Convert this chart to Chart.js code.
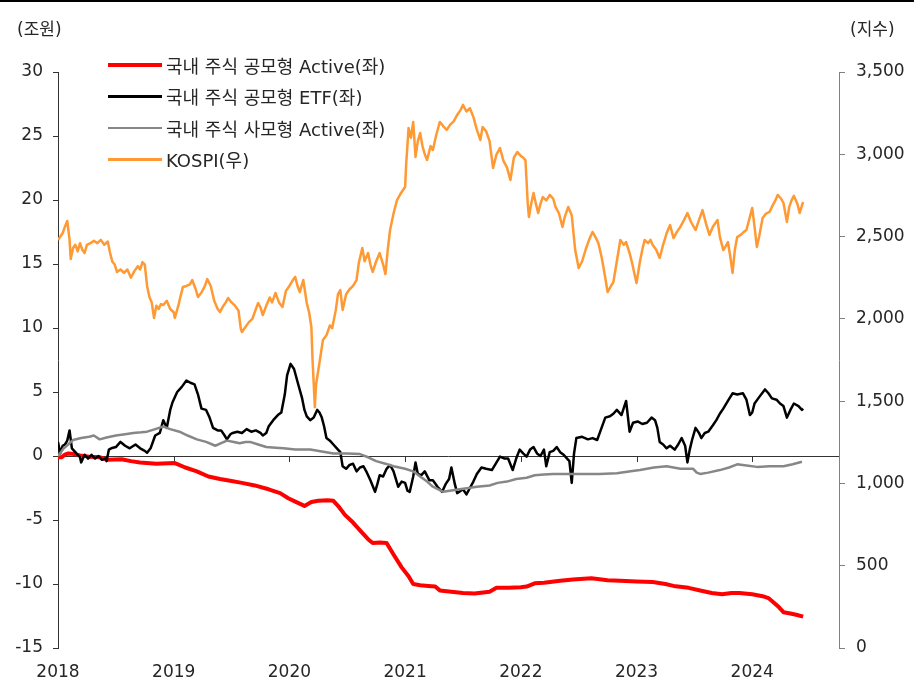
<!DOCTYPE html>
<html lang="ko">
<head>
<meta charset="utf-8">
<title>국내 주식형 펀드 자금 흐름과 KOSPI</title>
<script src="https://cdn.jsdelivr.net/npm/chart.js@4.4.1/dist/chart.umd.min.js"></script>
<style>
  html, body { margin: 0; padding: 0; background: #fff; }
  #wrap { position: relative; width: 914px; height: 687px; overflow: hidden; }
  #topbar { position: absolute; left: 0; top: 0; width: 914px; height: 2px; background: #000; }
  .unit { position: absolute; top: 15px; font: 17px 'DejaVu Sans', 'Noto Sans CJK KR', sans-serif; color: #262626; }
  #unitL { left: 17px; }
  #unitR { left: 850px; }
  #legend { position: absolute; left: 108px; top: 49px; font: 18px 'DejaVu Sans', 'Noto Sans CJK KR', sans-serif; color: #262626; }
  .lg-row { height: 31.5px; display: flex; align-items: center; white-space: nowrap; }
  .lg-line { display: inline-block; width: 54px; margin-right: 4px; }
</style>
</head>
<body>
<div id="wrap">
  <canvas id="chart" width="914" height="687"></canvas>
  <div id="topbar"></div>
  <div class="unit" id="unitL">(조원)</div>
  <div class="unit" id="unitR">(지수)</div>
  <div id="legend"></div>
</div>
<script>
// ── Data (x = 연도, 소수점) ───────────────────────────────────────
const seriesNames = ['국내 주식 공모형 Active(좌)', '국내 주식 공모형 ETF(좌)', '국내 주식 사모형 Active(좌)', 'KOSPI(우)'];
const leftTicks = [-15, -10, -5, 0, 5, 10, 15, 20, 25, 30];
const rightTicks = [0, 500, 1000, 1500, 2000, 2500, 3000, 3500];
const yearLabels = [2018, 2019, 2020, 2021, 2022, 2023, 2024];

// 국내 주식 공모형 Active 누적 순유입 (조원)
const publicActive = [
  [2018.00, -0.1], [2018.03, -0.1], [2018.06, 0.1], [2018.09, 0.2], [2018.14, 0.15], [2018.19, 0.05],
  [2018.27, -0.05], [2018.36, -0.1], [2018.43, -0.3], [2018.55, -0.25], [2018.63, -0.4], [2018.71, -0.5],
  [2018.85, -0.6], [2019.01, -0.55], [2019.10, -0.9], [2019.20, -1.2], [2019.30, -1.6], [2019.40, -1.8],
  [2019.50, -1.95], [2019.59, -2.1], [2019.70, -2.3], [2019.82, -2.6], [2019.92, -2.9], [2019.99, -3.3],
  [2020.06, -3.6], [2020.13, -3.9], [2020.19, -3.6], [2020.25, -3.5], [2020.33, -3.45], [2020.38, -3.5],
  [2020.43, -4.0], [2020.48, -4.6], [2020.55, -5.2], [2020.63, -6.0], [2020.68, -6.5], [2020.72, -6.8],
  [2020.78, -6.75], [2020.84, -6.8], [2020.90, -7.7], [2020.97, -8.7], [2021.03, -9.4], [2021.07, -10.0],
  [2021.13, -10.1], [2021.20, -10.15], [2021.26, -10.2], [2021.30, -10.5], [2021.40, -10.6], [2021.50, -10.7],
  [2021.60, -10.75], [2021.73, -10.6], [2021.79, -10.3], [2021.90, -10.3], [2022.00, -10.25], [2022.05, -10.2],
  [2022.12, -9.95], [2022.20, -9.9], [2022.34, -9.75], [2022.45, -9.65], [2022.61, -9.55], [2022.75, -9.7],
  [2022.86, -9.75], [2023.00, -9.8], [2023.14, -9.85], [2023.25, -10.0], [2023.32, -10.15], [2023.45, -10.3],
  [2023.57, -10.55], [2023.65, -10.7], [2023.74, -10.8], [2023.82, -10.7], [2023.89, -10.7], [2024.00, -10.8],
  [2024.09, -10.95], [2024.14, -11.1], [2024.18, -11.4], [2024.23, -11.8], [2024.27, -12.2], [2024.33, -12.3],
  [2024.38, -12.4], [2024.44, -12.55]
];

// 국내 주식 공모형 ETF 누적 순유입 (조원)
const publicEtf = [
  [2018.00, 1.1], [2018.02, 0.2], [2018.04, 0.8], [2018.06, 0.9], [2018.08, 1.2], [2018.10, 2.0],
  [2018.12, 0.6], [2018.15, 0.3], [2018.17, 0.1], [2018.19, -0.1], [2018.20, -0.5], [2018.23, 0.1],
  [2018.26, -0.2], [2018.29, 0.1], [2018.32, -0.2], [2018.35, 0.0], [2018.38, -0.3], [2018.41, -0.2],
  [2018.42, -0.4], [2018.44, 0.5], [2018.46, 0.6], [2018.50, 0.7], [2018.54, 1.1], [2018.58, 0.8],
  [2018.62, 0.6], [2018.67, 0.9], [2018.71, 0.6], [2018.75, 0.4], [2018.77, 0.25], [2018.80, 0.6],
  [2018.84, 1.6], [2018.88, 1.8], [2018.91, 2.8], [2018.94, 2.2], [2018.97, 3.6], [2018.99, 4.2],
  [2019.03, 5.0], [2019.07, 5.4], [2019.11, 5.9], [2019.15, 5.7], [2019.18, 5.6], [2019.21, 4.8],
  [2019.24, 3.7], [2019.28, 3.6], [2019.31, 3.0], [2019.34, 2.2], [2019.38, 2.0], [2019.41, 2.0],
  [2019.44, 1.6], [2019.46, 1.3], [2019.49, 1.7], [2019.51, 1.8], [2019.55, 1.9], [2019.59, 1.8],
  [2019.63, 2.1], [2019.67, 1.9], [2019.71, 2.0], [2019.75, 1.8], [2019.77, 1.6], [2019.80, 1.8],
  [2019.82, 2.3], [2019.86, 2.8], [2019.90, 3.2], [2019.93, 3.4], [2019.96, 4.8], [2019.98, 6.3],
  [2020.01, 7.2], [2020.04, 6.8], [2020.07, 5.8], [2020.11, 4.5], [2020.13, 3.6], [2020.15, 3.1],
  [2020.18, 2.8], [2020.21, 3.0], [2020.24, 3.6], [2020.26, 3.4], [2020.28, 3.0], [2020.30, 2.3],
  [2020.32, 1.4], [2020.35, 1.2], [2020.38, 0.9], [2020.41, 0.6], [2020.44, 0.3], [2020.46, -0.8],
  [2020.49, -1.0], [2020.52, -0.7], [2020.55, -0.6], [2020.58, -1.2], [2020.61, -0.9], [2020.64, -0.8],
  [2020.67, -1.3], [2020.70, -1.9], [2020.74, -2.8], [2020.76, -2.2], [2020.78, -1.5], [2020.81, -1.6],
  [2020.84, -1.0], [2020.87, -0.7], [2020.90, -1.2], [2020.94, -2.4], [2020.97, -2.0], [2021.00, -2.1],
  [2021.02, -2.7], [2021.04, -2.8], [2021.07, -1.6], [2021.09, -0.5], [2021.11, -1.4], [2021.14, -1.5],
  [2021.17, -1.2], [2021.21, -1.9], [2021.24, -1.9], [2021.28, -2.4], [2021.32, -2.8], [2021.35, -2.2],
  [2021.38, -1.8], [2021.40, -0.9], [2021.43, -2.2], [2021.45, -2.9], [2021.50, -2.6], [2021.53, -3.0],
  [2021.56, -2.5], [2021.59, -2.0], [2021.62, -1.4], [2021.66, -0.9], [2021.70, -1.0], [2021.75, -1.1],
  [2021.79, -0.5], [2021.82, -0.05], [2021.86, -0.2], [2021.89, -0.2], [2021.93, -1.1], [2021.96, -0.2],
  [2021.99, 0.5], [2022.02, 0.2], [2022.05, -0.05], [2022.08, 0.5], [2022.11, 0.7], [2022.14, 0.2],
  [2022.17, 0.0], [2022.20, 0.5], [2022.22, -0.8], [2022.25, 0.3], [2022.28, 0.4], [2022.31, 0.7],
  [2022.34, 0.3], [2022.37, 0.1], [2022.40, -0.2], [2022.42, -0.4], [2022.44, -2.1], [2022.46, 0.2],
  [2022.48, 1.4], [2022.53, 1.5], [2022.58, 1.3], [2022.62, 1.4], [2022.66, 1.25], [2022.69, 2.0],
  [2022.73, 3.0], [2022.77, 3.1], [2022.80, 3.3], [2022.83, 3.6], [2022.87, 3.2], [2022.91, 4.3],
  [2022.94, 1.9], [2022.97, 2.6], [2023.01, 2.7], [2023.05, 2.5], [2023.09, 2.6], [2023.13, 3.0],
  [2023.16, 2.8], [2023.18, 2.2], [2023.20, 1.1], [2023.23, 0.9], [2023.26, 0.6], [2023.29, 0.8],
  [2023.33, 0.5], [2023.36, 0.9], [2023.39, 1.4], [2023.42, 0.8], [2023.44, -0.5], [2023.46, 0.5],
  [2023.48, 1.25], [2023.51, 2.2], [2023.54, 1.8], [2023.56, 1.4], [2023.59, 1.8], [2023.62, 1.9],
  [2023.66, 2.4], [2023.69, 2.8], [2023.72, 3.3], [2023.75, 3.7], [2023.79, 4.3], [2023.83, 4.9],
  [2023.87, 4.8], [2023.92, 4.9], [2023.95, 4.4], [2023.98, 3.2], [2024.00, 3.4], [2024.02, 4.1],
  [2024.06, 4.6], [2024.11, 5.2], [2024.14, 4.9], [2024.17, 4.5], [2024.21, 4.4], [2024.24, 4.1],
  [2024.27, 3.9], [2024.30, 3.0], [2024.33, 3.6], [2024.36, 4.1], [2024.40, 3.9], [2024.43, 3.6],
  [2024.44, 3.7]
];

// 국내 주식 사모형 Active 누적 순유입 (조원)
const privateActive = [
  [2018.00, 0.0], [2018.05, 0.6], [2018.10, 1.0], [2018.13, 1.25], [2018.20, 1.4], [2018.27, 1.5],
  [2018.31, 1.6], [2018.36, 1.3], [2018.42, 1.45], [2018.50, 1.6], [2018.58, 1.7], [2018.65, 1.8],
  [2018.72, 1.85], [2018.77, 1.9], [2018.84, 2.1], [2018.91, 2.3], [2018.97, 2.1], [2019.05, 1.9],
  [2019.12, 1.6], [2019.20, 1.3], [2019.28, 1.1], [2019.36, 0.8], [2019.41, 1.0], [2019.46, 1.2],
  [2019.52, 1.1], [2019.57, 1.0], [2019.62, 1.1], [2019.66, 1.1], [2019.73, 0.9], [2019.80, 0.7],
  [2019.88, 0.65], [2019.95, 0.6], [2020.05, 0.5], [2020.18, 0.5], [2020.28, 0.35], [2020.38, 0.2],
  [2020.50, 0.2], [2020.61, 0.15], [2020.68, -0.1], [2020.75, -0.4], [2020.83, -0.6], [2020.90, -0.8],
  [2021.00, -1.0], [2021.07, -1.2], [2021.13, -1.6], [2021.19, -2.0], [2021.24, -2.4], [2021.33, -2.8],
  [2021.40, -2.7], [2021.47, -2.6], [2021.55, -2.5], [2021.62, -2.4], [2021.73, -2.3], [2021.80, -2.1],
  [2021.88, -2.0], [2021.96, -1.8], [2022.05, -1.7], [2022.12, -1.5], [2022.20, -1.45], [2022.28, -1.4],
  [2022.40, -1.4], [2022.54, -1.4], [2022.68, -1.4], [2022.83, -1.35], [2022.95, -1.2], [2023.03, -1.1],
  [2023.15, -0.9], [2023.26, -0.8], [2023.32, -0.9], [2023.38, -1.0], [2023.49, -1.0], [2023.52, -1.3],
  [2023.55, -1.4], [2023.62, -1.3], [2023.72, -1.1], [2023.80, -0.9], [2023.87, -0.65], [2023.95, -0.75],
  [2024.04, -0.85], [2024.15, -0.8], [2024.27, -0.8], [2024.35, -0.65], [2024.43, -0.45]
];

// KOSPI 지수
const kospi = [
  [2018.00, 2479], [2018.02, 2500], [2018.04, 2520], [2018.06, 2560], [2018.08, 2595], [2018.10, 2480],
  [2018.11, 2364], [2018.13, 2430], [2018.15, 2450], [2018.17, 2410], [2018.19, 2460], [2018.21, 2420],
  [2018.23, 2400], [2018.25, 2450], [2018.28, 2460], [2018.31, 2475], [2018.34, 2460], [2018.37, 2480],
  [2018.40, 2450], [2018.43, 2470], [2018.45, 2400], [2018.47, 2347], [2018.49, 2330], [2018.51, 2285],
  [2018.54, 2300], [2018.57, 2280], [2018.60, 2300], [2018.63, 2250], [2018.66, 2290], [2018.69, 2320],
  [2018.71, 2300], [2018.73, 2345], [2018.75, 2330], [2018.77, 2200], [2018.79, 2133], [2018.81, 2100],
  [2018.83, 2005], [2018.85, 2080], [2018.87, 2060], [2018.89, 2090], [2018.91, 2084], [2018.94, 2110],
  [2018.97, 2060], [2019.00, 2040], [2019.01, 2005], [2019.04, 2080], [2019.06, 2140], [2019.08, 2194],
  [2019.11, 2200], [2019.14, 2210], [2019.16, 2236], [2019.19, 2180], [2019.21, 2133], [2019.24, 2160],
  [2019.27, 2200], [2019.29, 2242], [2019.32, 2200], [2019.35, 2110], [2019.38, 2060], [2019.40, 2042],
  [2019.43, 2080], [2019.45, 2100], [2019.47, 2127], [2019.50, 2100], [2019.53, 2080], [2019.56, 2050],
  [2019.58, 1940], [2019.59, 1920], [2019.62, 1950], [2019.65, 1980], [2019.68, 2000], [2019.71, 2060],
  [2019.73, 2096], [2019.75, 2070], [2019.77, 2023], [2019.80, 2080], [2019.83, 2130], [2019.85, 2100],
  [2019.88, 2157], [2019.91, 2100], [2019.94, 2072], [2019.97, 2170], [2020.00, 2200], [2020.03, 2236],
  [2020.05, 2255], [2020.07, 2200], [2020.09, 2163], [2020.12, 2236], [2020.15, 2096], [2020.17, 2040],
  [2020.19, 1950], [2020.20, 1750], [2020.22, 1464], [2020.23, 1600], [2020.25, 1689], [2020.27, 1780],
  [2020.29, 1872], [2020.32, 1900], [2020.35, 1960], [2020.37, 1944], [2020.40, 2050], [2020.42, 2150],
  [2020.44, 2175], [2020.46, 2054], [2020.49, 2150], [2020.52, 2180], [2020.55, 2200], [2020.58, 2236],
  [2020.60, 2340], [2020.63, 2431], [2020.65, 2350], [2020.68, 2400], [2020.70, 2330], [2020.72, 2285],
  [2020.75, 2350], [2020.78, 2400], [2020.81, 2330], [2020.83, 2272], [2020.85, 2420], [2020.87, 2540],
  [2020.90, 2640], [2020.93, 2722], [2020.96, 2760], [2021.00, 2801], [2021.01, 2950], [2021.03, 3160],
  [2021.05, 3100], [2021.07, 3196], [2021.09, 2984], [2021.11, 3080], [2021.13, 3129], [2021.15, 3050],
  [2021.17, 3000], [2021.19, 2965], [2021.22, 3050], [2021.24, 3026], [2021.27, 3120], [2021.30, 3196],
  [2021.33, 3170], [2021.36, 3148], [2021.39, 3180], [2021.42, 3200], [2021.45, 3239], [2021.48, 3270],
  [2021.50, 3300], [2021.53, 3260], [2021.56, 3280], [2021.59, 3227], [2021.62, 3150], [2021.65, 3087],
  [2021.67, 3166], [2021.70, 3140], [2021.73, 3080], [2021.76, 2917], [2021.79, 3000], [2021.82, 3038],
  [2021.85, 2960], [2021.88, 2920], [2021.91, 2844], [2021.94, 2980], [2021.97, 3014], [2022.00, 2990],
  [2022.02, 2980], [2022.04, 2965], [2022.06, 2700], [2022.07, 2619], [2022.09, 2700], [2022.11, 2765],
  [2022.13, 2700], [2022.15, 2643], [2022.17, 2700], [2022.19, 2740], [2022.22, 2720], [2022.25, 2753],
  [2022.28, 2730], [2022.30, 2680], [2022.33, 2640], [2022.36, 2558], [2022.38, 2620], [2022.41, 2680],
  [2022.44, 2630], [2022.47, 2418], [2022.50, 2309], [2022.53, 2350], [2022.56, 2420], [2022.59, 2480],
  [2022.62, 2528], [2022.65, 2490], [2022.67, 2461], [2022.70, 2370], [2022.73, 2250], [2022.75, 2163],
  [2022.78, 2200], [2022.80, 2224], [2022.83, 2350], [2022.86, 2479], [2022.89, 2450], [2022.91, 2467],
  [2022.94, 2400], [2022.96, 2345], [2022.98, 2280], [2023.00, 2218], [2023.03, 2350], [2023.05, 2420],
  [2023.07, 2479], [2023.10, 2460], [2023.12, 2480], [2023.14, 2449], [2023.17, 2420], [2023.20, 2370],
  [2023.23, 2450], [2023.26, 2520], [2023.29, 2570], [2023.32, 2491], [2023.35, 2530], [2023.38, 2560],
  [2023.41, 2600], [2023.44, 2643], [2023.47, 2590], [2023.51, 2540], [2023.54, 2600], [2023.57, 2661],
  [2023.60, 2580], [2023.63, 2510], [2023.66, 2560], [2023.70, 2601], [2023.72, 2500], [2023.75, 2418],
  [2023.77, 2440], [2023.79, 2467], [2023.81, 2380], [2023.83, 2279], [2023.85, 2420], [2023.87, 2497],
  [2023.90, 2510], [2023.93, 2530], [2023.95, 2540], [2023.98, 2620], [2024.00, 2674], [2024.02, 2560],
  [2024.04, 2437], [2024.06, 2500], [2024.09, 2613], [2024.12, 2640], [2024.15, 2650], [2024.17, 2680],
  [2024.20, 2720], [2024.22, 2753], [2024.25, 2730], [2024.27, 2704], [2024.30, 2589], [2024.32, 2680],
  [2024.34, 2720], [2024.36, 2747], [2024.39, 2700], [2024.41, 2643], [2024.43, 2690], [2024.44, 2710]
];

// ── Styles ───────────────────────────────────────────────────────
const FONT = "'DejaVu Sans', 'Noto Sans CJK KR', sans-serif";
const TEXT = '#262626';
const seriesColors = ['#ff0000', '#000000', '#878787', '#ff9933'];
const seriesWidths = [4, 2.5, 2.5, 2.5];

const toPoints = rows => rows.map(r => ({ x: r[0], y: r[1] }));

// ── Legend (HTML) ────────────────────────────────────────────────
const legendEl = document.getElementById('legend');
seriesNames.forEach((name, i) => {
  const row = document.createElement('div');
  row.className = 'lg-row';
  row.innerHTML = '<span class="lg-line" style="height:' + seriesWidths[i] + 'px;background:' + seriesColors[i] + '"></span>' + name;
  legendEl.appendChild(row);
});

// ── x축: 0선 위에 그리는 축선과 눈금 ──────────────────────────────
const zeroAxis = {
  id: 'zeroAxis',
  beforeDatasetsDraw(chart) {
    const { ctx, chartArea } = chart;
    const x = chart.scales.x;
    const y0 = chart.scales.yL.getPixelForValue(0);
    ctx.save();
    ctx.strokeStyle = '#333';
    ctx.lineWidth = 1;
    ctx.beginPath();
    ctx.moveTo(chartArea.left, Math.round(y0) + 0.5);
    ctx.lineTo(chartArea.right, Math.round(y0) + 0.5);
    yearLabels.slice(1).forEach(yr => {
      const px = Math.round(x.getPixelForValue(yr)) + 0.5;
      ctx.moveTo(px, y0);
      ctx.lineTo(px, y0 + 6);
    });
    ctx.stroke();
    ctx.restore();
  }
};

// ── Chart ────────────────────────────────────────────────────────
const datasets = [publicActive, publicEtf, privateActive, kospi].map((rows, i) => ({
  label: seriesNames[i],
  data: toPoints(rows),
  yAxisID: i === 3 ? 'yR' : 'yL',
  borderColor: seriesColors[i],
  borderWidth: seriesWidths[i],
  pointRadius: 0,
  tension: 0,
  borderJoinStyle: 'round',
  order: [3, 2, 1, 0][i],
}));

new Chart(document.getElementById('chart'), {
  type: 'line',
  data: { datasets },
  plugins: [zeroAxis],
  options: {
    responsive: false,
    animation: false,
    devicePixelRatio: 1,
    layout: { padding: { top: 72, left: 0, right: 0, bottom: 0 } },
    plugins: { legend: { display: false }, tooltip: { enabled: false } },
    scales: {
      x: {
        type: 'linear',
        position: 'bottom',
        min: 2018,
        max: 2024.75,
        afterFit: s => { s.height = 39; },
        afterBuildTicks: s => { s.ticks = yearLabels.map(v => ({ value: v })); },
        ticks: {
          autoSkip: false,
          maxRotation: 0,
          padding: 14,
          color: TEXT,
          font: { family: FONT, size: 17 },
          callback: v => String(v),
        },
        grid: { display: false, drawTicks: false },
        border: { display: false },
      },
      yL: {
        type: 'linear',
        position: 'left',
        min: -15,
        max: 30,
        afterFit: s => { s.width = 58; },
        afterBuildTicks: s => { s.ticks = leftTicks.map(v => ({ value: v })); },
        ticks: { padding: 10, color: TEXT, font: { family: FONT, size: 17 } },
        grid: { drawOnChartArea: false, tickLength: 5, color: '#333' },
        border: { color: '#333', width: 1 },
      },
      yR: {
        type: 'linear',
        position: 'right',
        min: 0,
        max: 3500,
        afterFit: s => { s.width = 75; },
        afterBuildTicks: s => { s.ticks = rightTicks.map(v => ({ value: v })); },
        ticks: {
          padding: 11,
          color: TEXT,
          font: { family: FONT, size: 17 },
          callback: v => v.toLocaleString('en-US'),
        },
        grid: { drawOnChartArea: false, tickLength: 6, color: '#808080' },
        border: { color: '#808080', width: 1 },
      },
    },
  },
});
</script>
</body>
</html>
